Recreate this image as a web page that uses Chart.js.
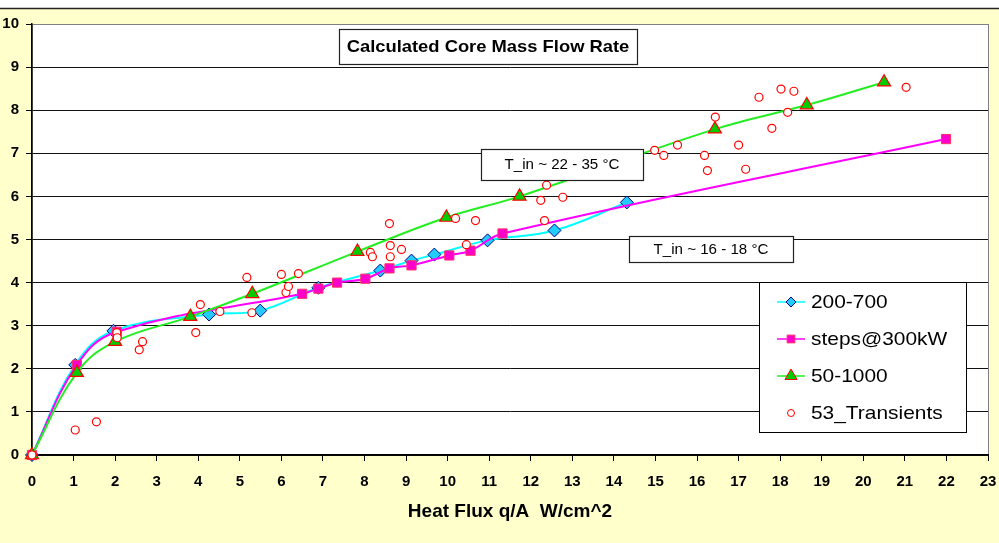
<!DOCTYPE html>
<html>
<head>
<meta charset="utf-8">
<script src="https://cdn.jsdelivr.net/npm/chart.js@4.4.1/dist/chart.umd.min.js"></script>
<style>
  html, body { margin: 0; padding: 0; background: #fff; }
  #wrap { width: 999px; height: 543px; }
</style>
</head>
<body>
<div id="wrap"><canvas id="flowChart" width="999" height="543"></canvas></div>
<script>
// values
const chartTitle = 'Calculated Core Mass Flow Rate';
const xTitle = 'Heat Flux q/A  W/cm^2';
const noteHigh = 'T_in ~ 22 - 35 °C';
const noteLow = 'T_in ~ 16 - 18 °C';

const labels200 = '200-700';
const x200 = [0, 1.04, 1.96, 4.26, 5.49, 6.89, 8.38, 9.13, 9.68, 10.96, 12.57, 14.31];
const y200 = [0, 2.09, 2.88, 3.26, 3.35, 3.88, 4.28, 4.51, 4.65, 4.98, 5.21, 5.86];

const labelSteps = 'steps@300kW';
const xSteps = [0, 1.08, 2.04, 6.50, 6.89, 7.34, 8.02, 8.60, 9.13, 10.04, 10.55, 11.32, 21.99];
const ySteps = [0, 2.09, 2.86, 3.74, 3.86, 4.00, 4.09, 4.33, 4.40, 4.63, 4.74, 5.14, 7.33];

const label50 = '50-1000';
const x50 = [0, 1.08, 2.0, 3.81, 5.30, 7.83, 9.97, 11.73, 16.43, 18.64, 20.50];
const y50 = [0, 1.91, 2.63, 3.21, 3.74, 4.72, 5.51, 6.00, 7.56, 8.12, 8.65];

const labelTrans = '53_Transients';
const xTrans = [0, 1.04, 1.55, 2.04, 2.05, 2.58, 2.66, 3.94, 4.05, 4.52, 5.17, 5.29, 6.0, 6.11, 6.17, 6.41,
  8.14, 8.19, 8.60, 8.62, 8.62, 8.89, 10.45, 10.19, 10.67, 12.33, 12.24, 12.38, 12.77,
  14.98, 15.20, 15.53, 16.18, 16.25, 16.44, 17.0, 17.17, 17.49, 17.80, 18.02, 18.18, 18.33, 21.03];
const yTrans = [0, 0.58, 0.77, 2.84, 2.72, 2.44, 2.63, 2.84, 3.49, 3.33, 4.12, 3.30, 4.19, 3.77, 3.91, 4.21,
  4.70, 4.60, 5.37, 4.86, 4.60, 4.77, 4.88, 5.49, 5.44, 5.44, 5.91, 6.26, 5.98,
  7.07, 6.95, 7.19, 6.95, 6.60, 7.84, 7.19, 6.63, 8.30, 7.58, 8.49, 7.95, 8.44, 8.53];

const xMax = 23;
const yMax = 10;

function pts(xs, ys) {
  return xs.map((x, i) => ({ x: x, y: ys[i] }));
}

const FONT = '"Liberation Sans", Arial, sans-serif';

const datasets = [
  {
    label: labels200, data: pts(x200, y200), order: 4, showLine: true,
    borderColor: '#00FFFF', borderWidth: 2, tension: 0.4,
    pointStyle: 'rectRot', pointRadius: 6.5, pointBackgroundColor: '#22CCFF',
    pointBorderColor: '#000080', pointBorderWidth: 1
  },
  {
    label: labelSteps, data: pts(xSteps, ySteps), order: 3, showLine: true,
    borderColor: '#FF00FF', borderWidth: 2, tension: 0.4,
    pointStyle: 'rect', pointRadius: 6.5, pointBackgroundColor: '#FF00CC',
    pointBorderColor: '#FF3366', pointBorderWidth: 1
  },
  {
    label: label50, data: pts(x50, y50), order: 2, showLine: true,
    borderColor: '#22EE22', borderWidth: 2, tension: 0.4,
    pointStyle: 'triangle', pointRadius: 7.5, pointBackgroundColor: '#00CC00',
    pointBorderColor: '#FF0000', pointBorderWidth: 1.2
  },
  {
    label: labelTrans, data: pts(xTrans, yTrans), order: 1, showLine: false,
    pointStyle: 'circle', pointRadius: 4, pointBackgroundColor: '#FFFFFF',
    pointBorderColor: '#FF0000', pointBorderWidth: 1.2
  }
];

// text in the original looks a little wide, so stretch it a bit
function wideText(c, text, x, y, sx) {
  c.save();
  c.translate(x, y);
  c.scale(sx, 1);
  c.fillText(text, 0, 0);
  c.restore();
}

// page frame, title box, notes and the legend box
const framePlugin = {
  id: 'frame',
  beforeDraw(chart) {
    const c = chart.ctx;
    const a = chart.chartArea;
    c.save();
    c.fillStyle = '#FFFFFF';
    c.fillRect(0, 0, chart.width, chart.height);
    c.fillStyle = '#FFFFCC';
    c.fillRect(0, 9, chart.width, chart.height - 9);
    c.strokeStyle = '#222';
    c.lineWidth = 1.5;
    c.beginPath(); c.moveTo(0, 8.5); c.lineTo(chart.width, 8.5); c.stroke();
    c.fillStyle = '#FFFFFF';
    c.fillRect(a.left, a.top, a.right - a.left, a.bottom - a.top);
    c.strokeStyle = '#808080';
    c.lineWidth = 1;
    c.strokeRect(a.left + 0.5, a.top + 0.5, a.right - a.left, a.bottom - a.top);
    c.restore();
  },
  afterDraw(chart) {
    const c = chart.ctx;
    c.save();
    function box(x1, y1, x2, y2, text, font) {
      c.fillStyle = '#FFFFFF';
      c.fillRect(x1, y1, x2 - x1, y2 - y1);
      c.strokeStyle = '#222';
      c.lineWidth = 1.2;
      c.strokeRect(x1 + 0.5, y1 + 0.5, x2 - x1, y2 - y1);
      c.fillStyle = '#000';
      c.font = font;
      c.textAlign = 'center';
      c.textBaseline = 'middle';
      wideText(c, text, (x1 + x2) / 2, (y1 + y2) / 2 + 1, 1.08);
    }
    box(339, 29, 637, 64, chartTitle, 'bold 17px ' + FONT);
    box(481, 149, 643, 180, noteHigh, '14px ' + FONT);
    box(629, 236, 793, 262, noteLow, '14px ' + FONT);

    // legend
    c.fillStyle = '#FFFFFF';
    c.fillRect(759, 282, 207, 150);
    c.strokeStyle = '#000';
    c.lineWidth = 1;
    c.strokeRect(759.5, 282.5, 207, 150);
    const rows = [302, 339, 376, 413];
    const sizes = [5, 5.5, 7, 3.5];
    datasets.forEach((ds, i) => {
      const y = rows[i];
      if (ds.showLine !== false) {
        c.strokeStyle = ds.borderColor;
        c.lineWidth = 1.5;
        c.beginPath(); c.moveTo(777, y); c.lineTo(805, y); c.stroke();
      }
      c.fillStyle = ds.pointBackgroundColor;
      c.strokeStyle = ds.pointBorderColor;
      c.lineWidth = 1;
      Chart.helpers.drawPoint(c, { pointStyle: ds.pointStyle, radius: sizes[i], rotation: 0, borderWidth: 1 }, 791, y);
      c.fillStyle = '#000';
      c.font = '19px ' + FONT;
      c.textAlign = 'left';
      c.textBaseline = 'middle';
      wideText(c, ds.label, 811, y + 1, 1.1);
    });
    c.restore();
  }
};

new Chart(document.getElementById('flowChart'), {
  type: 'scatter',
  data: { datasets: datasets },
  options: {
    responsive: false,
    animation: false,
    layout: { padding: { left: 0, top: 24, right: 11, bottom: 0 } },
    plugins: { legend: { display: false }, tooltip: { enabled: false } },
    datasets: { scatter: { clip: false } },
    scales: {
      x: {
        type: 'linear', min: 0, max: xMax,
        ticks: { stepSize: 1, color: '#000', font: { family: FONT, size: 15, weight: 'bold' }, padding: 12, maxRotation: 0 },
        grid: { drawOnChartArea: false, drawTicks: true, tickLength: 6, tickColor: '#000' },
        border: { color: '#000', width: 1.5 },
        title: { display: true, text: xTitle, color: '#000', font: { family: FONT, size: 19, weight: 'bold' }, padding: { top: 4, bottom: 20 } },
        afterFit(scale) { scale.height = 88; scale.paddingLeft = 0; scale.paddingRight = 0; }
      },
      y: {
        type: 'linear', min: 0, max: yMax,
        ticks: { stepSize: 1, color: '#000', font: { family: FONT, size: 15, weight: 'bold' }, padding: 7 },
        grid: {
          color: ctx => (ctx.tick && ctx.tick.value === yMax) ? '#808080' : '#111',
          lineWidth: 1, tickLength: 6, tickColor: '#000'
        },
        border: { color: '#000', width: 1.5 },
        afterFit(scale) { scale.width = 32; scale.paddingTop = 0; scale.paddingBottom = 0; }
      }
    }
  },
  plugins: [framePlugin]
});
</script>
</body>
</html>
